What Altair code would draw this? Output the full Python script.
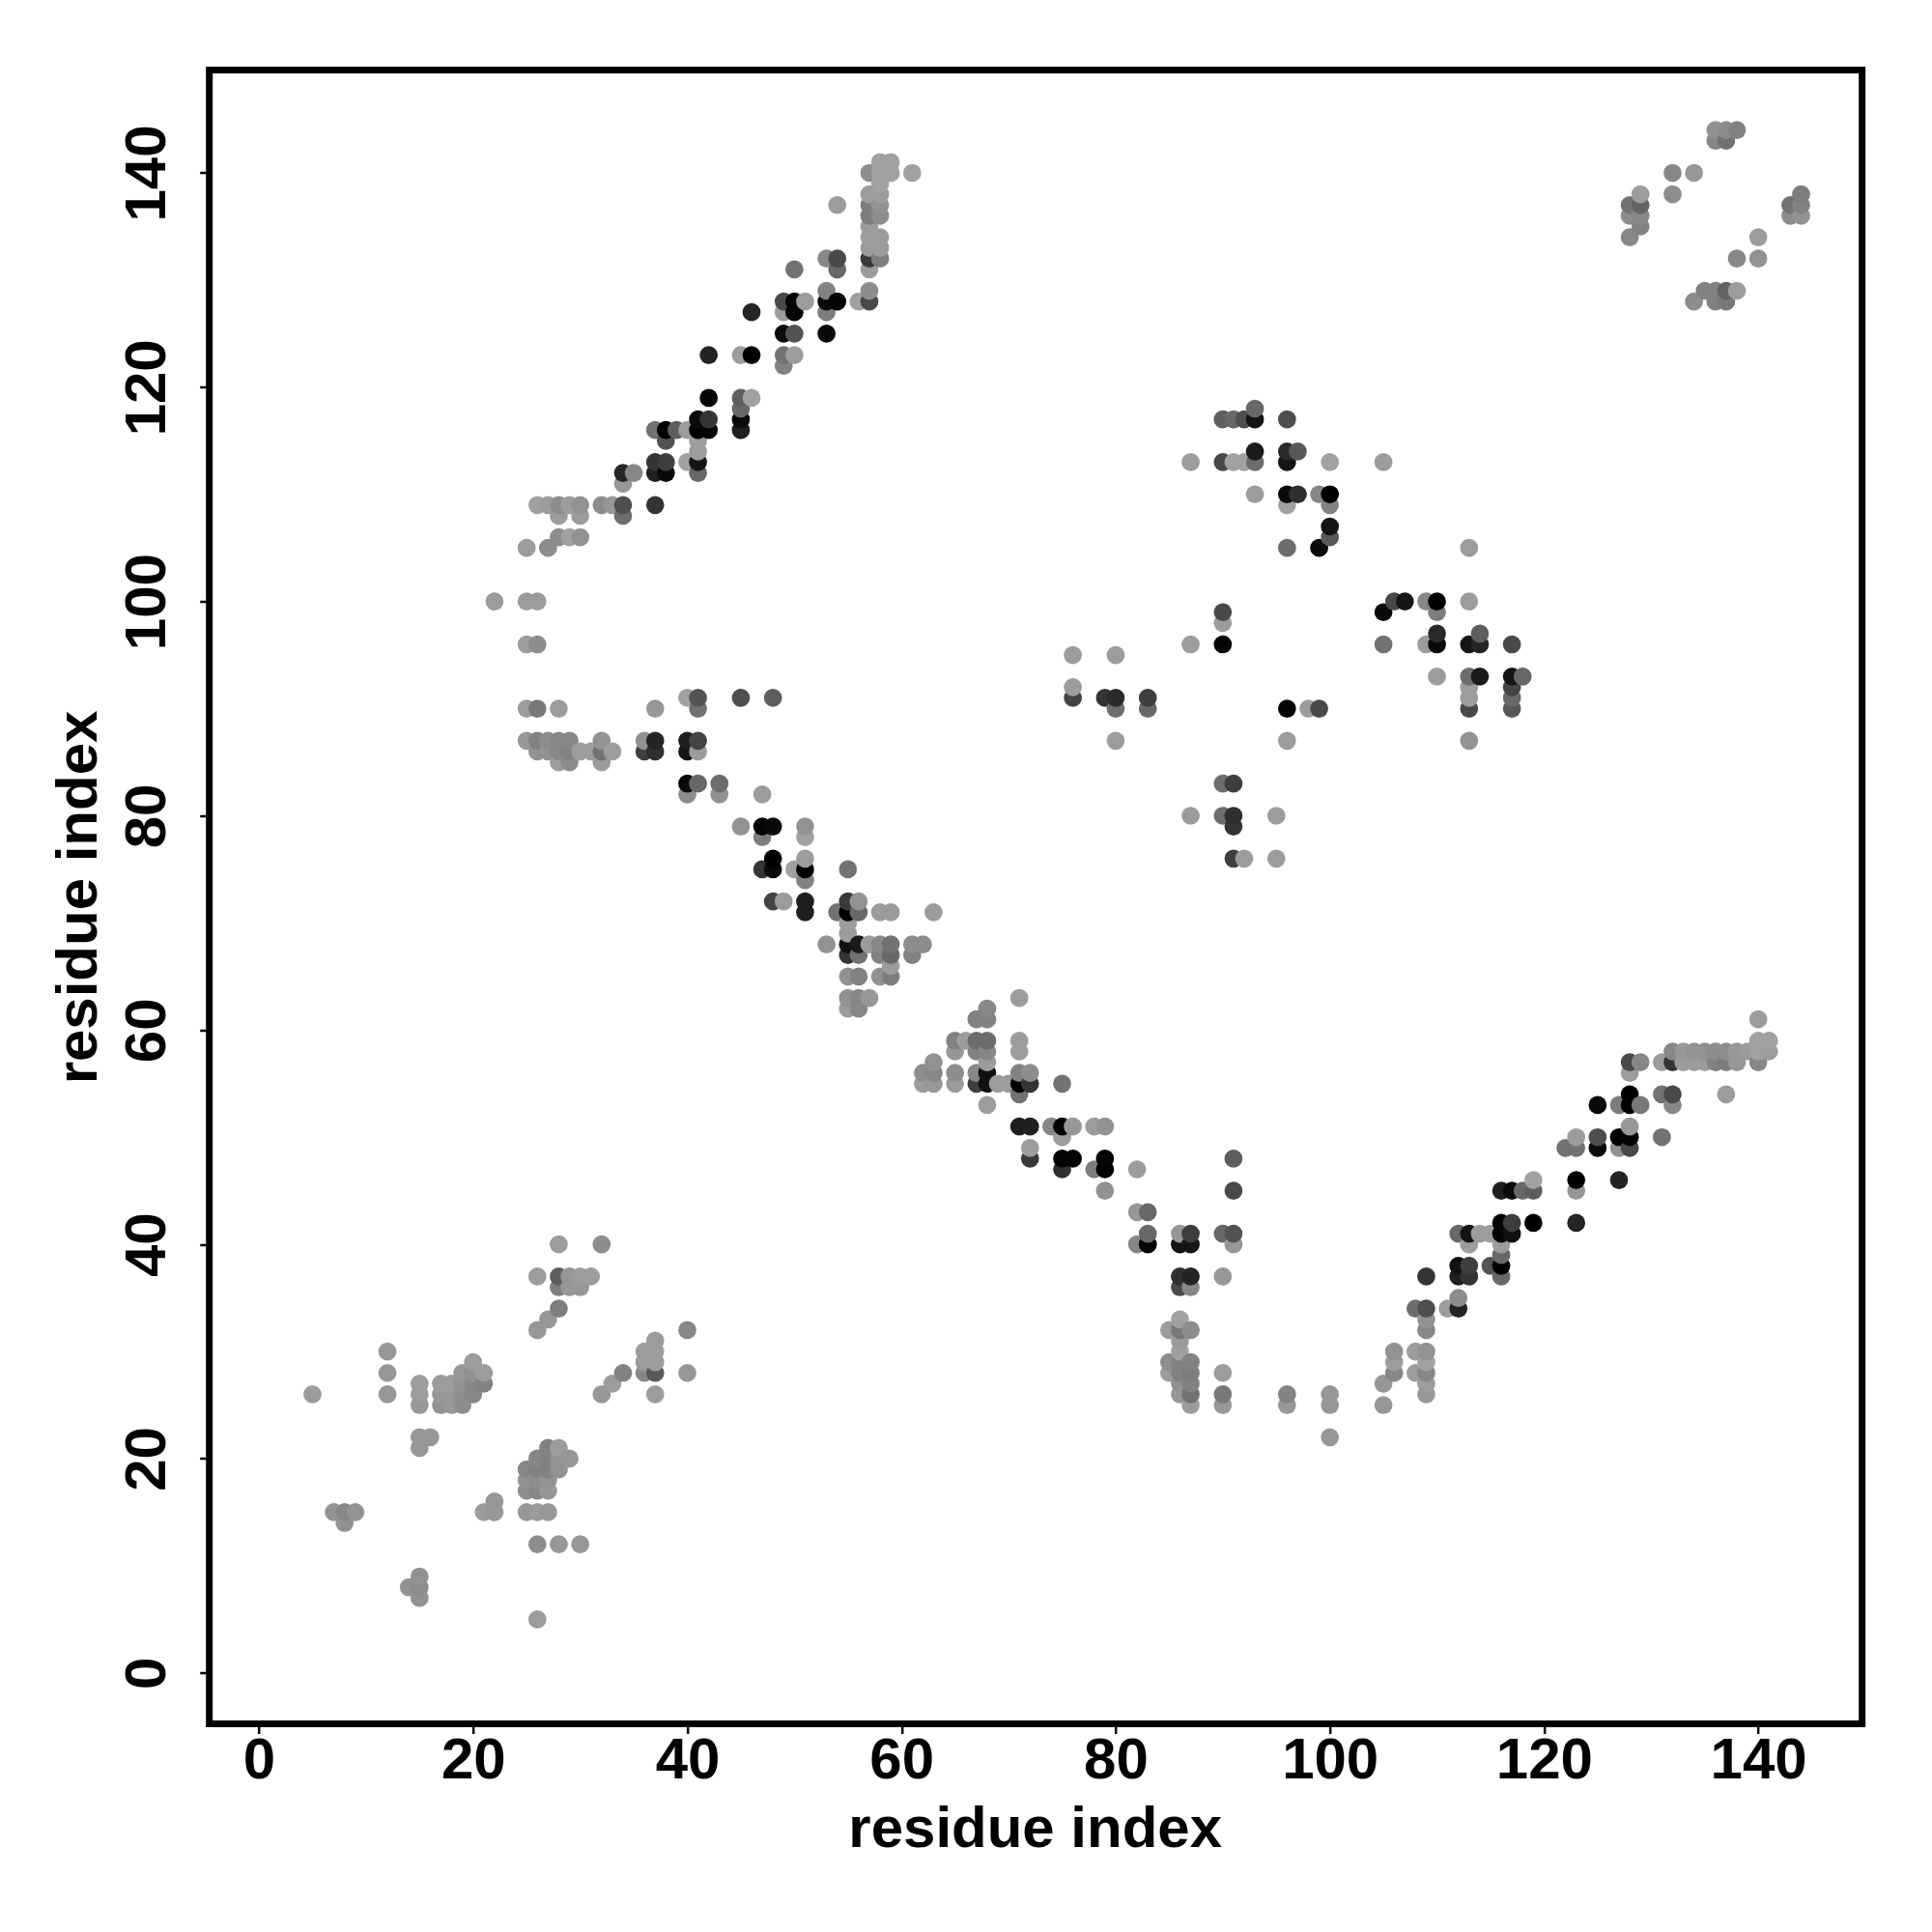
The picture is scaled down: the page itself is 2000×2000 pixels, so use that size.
import altair as alt
import pandas as pd

# (residue x, residue y, grey level)
upper_band = [
(58,141,155),(59,141,155),(57,140,135),(58,140,155),(59,140,155),(61,140,155),(58,139,155),
(57,138,150),(58,138,150),(54,137,150),(57,137,120),(58,137,140),(57,136,120),(58,136,135),
(57,135,150),(57,134,150),(58,134,150),(57,133,150),(58,133,150),(53,132,130),(54,132,70),
(57,132,55),(58,132,120),(50,131,110),(54,131,100),(57,131,150),(53,129,125),(57,129,135),
(49,128,70),(50,128,5),(51,128,150),(53,128,10),(54,128,5),(56,128,155),(57,128,70),
(46,127,35),(49,127,150),(50,127,5),(53,127,120),(49,125,10),(50,125,80),(53,125,10),
(42,123,35),(45,123,150),(46,123,0),(49,123,110),(50,123,150),(49,122,125),(42,119,5),
(45,119,90),(46,119,155),(45,118,100),(41,117,10),(42,117,50),(45,117,10),(37,116,110),
(38,116,0),(39,116,90),(40,116,150),(41,116,0),(42,116,5),(45,116,30),(38,115,80),(41,115,150),
(41,114,150),(37,113,50),(38,113,60),(40,113,155),(41,113,20),(34,112,35),(35,112,130),
(37,112,30),(38,112,10),(41,112,100),(34,111,145),(26,109,155),(27,109,150),(28,109,135),
(29,109,150),(30,109,140),(32,109,135),(33,109,145),(34,109,75),(37,109,50),(28,108,150),
(30,108,150),(34,108,105),(28,106,135),(29,106,155),(30,106,140),(25,105,150),(27,105,135),
(22,100,150),(25,100,150),(26,100,150),
]

middle_band = [
(25,96,150),(26,96,135),(40,91,155),(41,91,80),(45,91,75),(48,91,90),(25,90,150),(26,90,115),
(28,90,150),(37,90,145),(41,90,110),(25,87,145),(26,87,125),(27,87,135),(28,87,130),(29,87,130),
(32,87,140),(36,87,140),(37,87,35),(40,87,30),(41,87,65),(26,86,140),(27,86,140),(28,86,130),
(29,86,125),(30,86,150),(31,86,150),(32,86,110),(33,86,150),(36,86,60),(37,86,45),(40,86,20),
(41,86,150),(28,85,150),(29,85,135),(32,85,150),(40,83,10),(41,83,100),(43,83,105),(40,82,135),
(43,82,140),(47,82,150),(45,79,140),(47,79,5),(48,79,10),(51,79,140),(47,78,120),(51,78,155),
(48,76,0),(51,76,150),(47,75,50),(48,75,10),(50,75,155),(51,75,0),(55,75,110),(51,74,125),
(48,72,65),(49,72,150),(51,72,30),(55,72,55),(56,72,140),(51,71,30),(54,71,110),(55,71,0),
(56,71,100),(58,71,150),(59,71,150),(63,71,150),(55,70,150),(55,69,150),(53,68,140),(55,68,15),
(56,68,25),(57,68,150),(58,68,130),(59,68,110),(61,68,135),(62,68,135),(55,67,50),(56,67,110),
(58,67,125),(59,67,100),(61,67,125),(59,66,150),(55,65,140),(56,65,125),(58,65,140),(59,65,120),
(55,63,140),(56,63,130),(57,63,145),(55,62,150),(56,62,130),
]

lower_band = [
(71,63,150),(68,62,130),(67,61,125),(68,61,125),(65,59,125),(66,59,150),(67,59,105),(68,59,105),
(71,59,150),(65,58,145),(67,58,125),(68,58,130),(71,58,150),(63,57,140),(68,57,150),(62,56,135),
(63,56,130),(65,56,135),(67,56,130),(68,56,15),(71,56,125),(72,56,135),(62,55,150),(63,55,145),
(65,55,150),(67,55,60),(68,55,15),(69,55,150),(70,55,150),(71,55,0),(72,55,50),(75,55,110),
(71,54,110),(68,53,150),(71,51,30),(72,51,30),(74,51,130),(75,51,0),(76,51,145),(78,51,150),
(79,51,140),(75,50,150),(72,49,150),(72,48,55),(75,48,5),(76,48,5),(79,48,5),(91,48,90),
(75,47,45),(78,47,120),(79,47,0),(82,47,150),(79,45,140),(91,45,70),(82,43,145),(83,43,100),
(83,41,100),(86,41,145),(87,41,60),(90,41,100),(91,41,80),(82,40,130),(83,40,5),(86,40,20),
(87,40,20),(91,40,145),(86,37,45),(87,37,35),(90,37,145),(86,36,70),(87,36,130),(86,33,155),
(85,32,150),(86,32,115),(87,32,135),(86,31,150),(86,30,155),(85,29,135),(86,29,125),(87,29,125),
(85,28,150),(86,28,125),(87,28,120),(90,28,150),(86,27,140),(87,27,125),(86,26,145),(87,26,110),
(90,26,115),(87,25,150),(90,25,145),(96,26,125),(96,25,145),(100,26,145),(100,25,145),(100,22,145),
]

right_band = [
(140,61,150),(140,59,155),(141,59,155),(132,58,130),(133,58,145),(134,58,140),(135,58,140),
(136,58,135),(137,58,135),(138,58,145),(139,58,150),(140,58,155),(141,58,150),(128,57,70),
(129,57,130),(131,57,150),(132,57,50),(133,57,150),(134,57,150),(135,57,150),(136,57,125),
(137,57,120),(138,57,145),(140,57,130),(128,56,150),(128,54,0),(131,54,110),(132,54,70),
(137,54,150),(125,53,10),(127,53,120),(128,53,0),(129,53,115),(132,53,130),(128,51,145),
(123,50,150),(125,50,75),(127,50,0),(128,50,5),(131,50,110),(122,49,110),(123,49,110),(125,49,10),
(127,49,140),(128,49,70),(119,46,155),(123,46,0),(127,46,35),(116,45,30),(117,45,10),(118,45,100),
(119,45,90),(123,45,145),(116,42,5),(117,42,60),(119,42,0),(123,42,35),(112,41,100),(113,41,20),
(114,41,150),(115,41,150),(116,41,5),(117,41,15),(113,40,150),(116,40,150),(116,39,100),(112,38,15),
(113,38,60),(115,38,80),(116,38,0),(109,37,50),(112,37,30),(113,37,50),(116,37,100),(112,35,135),
(108,34,105),(109,34,75),(111,34,150),(112,34,35),(109,33,140),(109,32,130),(106,30,140),
(108,30,150),(109,30,140),(106,29,150),(109,29,155),(106,28,130),(108,28,150),(109,28,130),
(105,27,145),(109,27,150),(109,26,145),(105,25,145),
]

lower_left = [
(28,40,150),(32,40,135),(26,37,150),(28,37,90),(29,37,145),(30,37,150),(31,37,150),(28,36,120),
(29,36,145),(30,36,145),(28,34,120),(27,33,145),(26,32,145),(40,32,130),(37,31,150),(12,30,145),
(36,30,150),(37,30,150),(20,29,150),(36,29,150),(37,29,150),(12,28,145),(19,28,145),(20,28,140),
(21,28,150),(34,28,125),(36,28,130),(37,28,85),(40,28,145),(15,27,150),(17,27,150),(18,27,150),
(19,27,140),(20,27,130),(21,27,125),(33,27,150),(5,26,150),(12,26,145),(15,26,150),(17,26,145),
(18,26,145),(19,26,135),(20,26,130),(32,26,145),(37,26,150),(15,25,145),(17,25,140),(18,25,145),
(19,25,135),(15,22,145),(16,22,145),(15,21,145),(27,21,125),(28,21,150),(26,20,130),(27,20,125),
(28,20,140),(29,20,145),(25,19,130),(26,19,125),(27,19,125),(28,19,140),(25,18,140),(26,18,135),
(27,18,140),(25,17,135),(26,17,130),(27,17,145),(22,16,145),(21,15,150),(22,15,145),(25,15,145),
(26,15,150),(27,15,145),(7,15,140),(8,15,130),(9,15,140),(8,14,140),(26,12,135),(28,12,145),
(30,12,145),(15,9,140),(14,8,140),(15,8,135),(15,7,140),(26,5,150),
]

centre_right = [
(93,118,100),(90,117,90),(91,117,100),(92,117,75),(93,117,20),(96,117,75),(93,114,25),(96,114,40),
(97,114,85),(87,113,150),(90,113,70),(91,113,155),(92,113,155),(93,113,105),(96,113,20),(100,113,155),
(105,113,150),(93,110,150),(96,110,10),(97,110,45),(99,110,130),(100,110,0),(96,109,155),(100,109,125),
(100,107,20),(100,106,85),(96,105,105),(99,105,10),(113,105,150),(106,100,70),(107,100,20),(109,100,130),
(110,100,0),(113,100,150),(90,99,70),(105,99,10),(110,99,120),(90,98,150),(110,97,40),(114,97,90),
(87,96,150),(90,96,5),(105,96,110),(109,96,150),(110,96,10),(113,96,20),(114,96,35),(117,96,70),
(76,95,150),(80,95,150),(110,93,150),(113,93,105),(114,93,25),(117,93,20),(118,93,100),(76,92,150),
(113,92,150),(117,92,65),(76,91,65),(79,91,50),(80,91,40),(83,91,60),(113,91,150),(117,91,100),
(80,90,105),(83,90,100),(96,90,5),(98,90,150),(99,90,70),(113,90,70),(117,90,85),(80,87,150),
(96,87,150),(113,87,140),(90,83,105),(91,83,60),(87,80,150),(90,80,105),(91,80,45),(95,80,150),
(91,79,50),(91,76,60),(92,76,150),(95,76,150),
]

upper_right = [
(136,144,140),(137,144,135),(138,144,125),(136,143,130),(137,143,110),(132,140,130),(134,140,145),
(129,138,150),(132,138,135),(144,138,120),(128,137,110),(129,137,95),(143,137,110),(144,137,125),
(128,136,135),(129,136,130),(143,136,135),(144,136,140),(129,135,125),(128,134,130),(140,134,150),
(138,132,130),(140,132,140),(135,129,125),(136,129,125),(137,129,95),(138,129,150),(134,128,135),
(136,128,125),(137,128,115),
]

x_ticks = [0, 20, 40, 60, 80, 100, 120, 140]
y_ticks = [0, 20, 40, 60, 80, 100, 120, 140]

rows = upper_band + middle_band + lower_band + right_band + lower_left + centre_right + upper_right
df = pd.DataFrame(rows, columns=["x", "y", "g"]).drop_duplicates(["x", "y"]).sort_values(["x", "y"])

FONT = "Liberation Sans"


def axis(ticks, **kw):
    return alt.Axis(
        values=ticks, title="residue index", grid=False, domain=False,
        tickColor="black", tickWidth=2.5, tickSize=10,
        labelFont=FONT, labelFontWeight="bold", labelFontSize=60, labelColor="black",
        labelBaseline="alphabetic", labelFlush=False, labelOverlap=False,
        titleFont=FONT, titleFontWeight="bold", titleFontSize=60, titleColor="black",
        titleBaseline="alphabetic", **kw)


chart = (
    alt.Chart(df)
    .mark_circle(size=350, opacity=1)
    .encode(
        x=alt.X("x:Q", scale=alt.Scale(domain=[-4.63, 149.7], nice=False, zero=False),
                axis=axis(x_ticks, labelPadding=46, titleX=854.5, titleY=127)),
        y=alt.Y("y:Q", scale=alt.Scale(domain=[-4.75, 149.6], nice=False, zero=False),
                axis=axis(y_ticks, labelPadding=36, labelAngle=270, labelAlign="center",
                          titleAngle=270, titleX=-117, titleY=856)),
        color=alt.Color("g:Q", legend=None,
                        scale=alt.Scale(domain=[0, 245], range=["#000000", "#ffffff"], interpolate="rgb")),
    )
    .properties(
        width=1711, height=1712,
        autosize=alt.AutoSizeParams(type="none"),
        padding={"left": 208.7, "top": 64.5, "right": 60, "bottom": 200},
    )
    .configure_view(stroke="black", strokeWidth=7, fill="white")
)

chart.save("out.html", embed_options={"renderer": "svg", "actions": False})
